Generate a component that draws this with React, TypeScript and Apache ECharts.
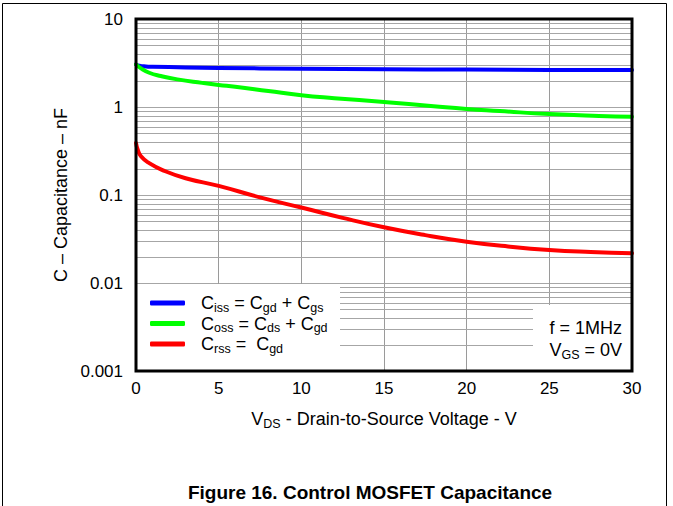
import React, { useEffect, useRef } from "react";
import * as echarts from "echarts";

// ---- data ----
const cissV = [0, 0.2, 0.6, 1, 3, 5, 10, 15, 20, 25, 30];
const cissC = [3.05, 2.95, 2.89, 2.87, 2.82, 2.78, 2.72, 2.69, 2.66, 2.64, 2.63];

const cossV = [0, 0.3, 0.8, 1.5, 2.5, 4, 5, 6, 8, 10, 12, 15, 18, 20, 22, 25, 28, 30];
const cossC = [3.05, 2.75, 2.45, 2.25, 2.06, 1.88, 1.78, 1.7, 1.52, 1.36, 1.26, 1.14, 1.02, 0.95, 0.9, 0.83, 0.79, 0.775];

const crssV = [0, 0.1, 0.3, 0.8, 1.6, 3, 5, 7.5, 10, 12.5, 15, 17.5, 20, 22.5, 25, 27.5, 30];
const crssC = [0.39, 0.33, 0.275, 0.23, 0.192, 0.155, 0.127, 0.094, 0.072, 0.055, 0.043, 0.035, 0.0295, 0.026, 0.0237, 0.0225, 0.0218];

const xTicks = [0, 5, 10, 15, 20, 25, 30];
const yTickValues = [0.001, 0.01, 0.1, 1, 10];
const yTickLabels = ["0.001", "0.01", "0.1", "1", "10"];
const minorGridValues = [
  0.002, 0.003, 0.004, 0.005, 0.006, 0.007, 0.008, 0.009,
  0.02, 0.03, 0.04, 0.05, 0.06, 0.07, 0.08, 0.09,
  0.2, 0.3, 0.4, 0.5, 0.6, 0.7, 0.8, 0.9,
  2, 3, 4, 5, 6, 7, 8, 9,
];
const seriesNames = ["Ciss", "Coss", "Crss"];
const legendLabels: Record<string, string> = {
  Ciss: "{m|C}{s|iss}{m| = C}{s|gd}{m| + C}{s|gs}",
  Coss: "{m|C}{s|oss}{m| = C}{s|ds}{m| + C}{s|gd}",
  Crss: "{m|C}{s|rss}{m| =  C}{s|gd}",
};

const FONT = "'Liberation Sans', Arial, Helvetica, sans-serif";
const GRID = { left: 136, top: 19, width: 496, height: 352 };

const subRich = (main: number, sub: number, lh: number) => ({
  m: { fontSize: main, fontFamily: FONT, color: "#000", lineHeight: lh, verticalAlign: "middle" },
  s: { fontSize: sub, fontFamily: FONT, color: "#000", verticalAlign: "bottom" },
});

export default function App() {
  const ref = useRef<HTMLDivElement>(null);

  useEffect(() => {
    document.body.style.margin = "0";
    if (!ref.current) return;
    const chart = echarts.init(ref.current, undefined, { renderer: "svg" });

    const pairs = (xs: number[], ys: number[]) => xs.map((x, i) => [x, ys[i]]);
    const lineSeries = (name: string, color: string, data: number[][]) => ({
      name,
      type: "line",
      data,
      showSymbol: false,
      smooth: 0.5,
      z: 2,
      lineStyle: { color, width: 4, cap: "round", join: "round" },
      itemStyle: { color },
      silent: true,
    });

    chart.setOption({
      animation: false,
      backgroundColor: "#fff",
      grid: { ...GRID, show: false },
      legend: {
        data: seriesNames,
        orient: "vertical",
        left: 150,
        top: 294,
        padding: 0,
        itemGap: 0.5,
        itemWidth: 35,
        itemHeight: 5,
        icon: "roundRect",
        selectedMode: false,
        formatter: (n: string) => legendLabels[n],
        textStyle: { padding: [0, 0, 0, 11], rich: subRich(18, 12.5, 22) },
      },
      xAxis: {
        type: "value",
        min: xTicks[0],
        max: xTicks[xTicks.length - 1],
        interval: 5,
        name: "{m|V}{s|DS}{m| - Drain-to-Source Voltage - V}",
        nameLocation: "middle",
        nameGap: 37,
        nameTextStyle: { rich: subRich(18, 12.5, 22) },
        axisLine: { show: false },
        axisTick: { show: false },
        axisLabel: { fontSize: 17, fontFamily: FONT, color: "#000", margin: 9 },
        splitLine: { show: true, lineStyle: { color: "#9a9a9a", width: 1 } },
      },
      yAxis: {
        type: "log",
        logBase: 10,
        min: yTickValues[0],
        max: yTickValues[yTickValues.length - 1],
        name: "C – Capacitance – nF",
        nameLocation: "middle",
        nameRotate: 90,
        nameGap: 62,
        nameTextStyle: { fontSize: 18, fontFamily: FONT, color: "#000" },
        axisLine: { show: false },
        axisTick: { show: false },
        axisLabel: {
          fontSize: 17,
          fontFamily: FONT,
          color: "#000",
          margin: 13,
          formatter: (v: number) => {
            const i = yTickValues.findIndex((t) => Math.abs(Math.log10(t) - Math.log10(v)) < 1e-6);
            return i >= 0 ? yTickLabels[i] : "";
          },
        },
        splitLine: { show: true, lineStyle: { color: "#a6a6a6", width: 1 } },
      },
      series: [
        {
          name: "grid",
          type: "custom",
          z: 1,
          silent: true,
          clip: false,
          data: minorGridValues.map((v) => [xTicks[0], v]),
          renderItem: (_p: any, api: any) => {
            const v = api.value(1);
            const a = api.coord([xTicks[0], v]);
            const b = api.coord([xTicks[xTicks.length - 1], v]);
            const y = Math.round(a[1]) + 0.5;
            return {
              type: "line",
              shape: { x1: a[0], y1: y, x2: b[0], y2: y },
              style: { stroke: "#a6a6a6", lineWidth: 1 },
            };
          },
        },
        lineSeries("Ciss", "#0000ff", pairs(cissV, cissC)),
        lineSeries("Coss", "#00ff00", pairs(cossV, cossC)),
        lineSeries("Crss", "#ff0000", pairs(crssV, crssC)),
      ],
      graphic: [
        {
          type: "rect",
          z: 1.5,
          silent: true,
          shape: { x: 137, y: 284, width: 203, height: 86 },
          style: { fill: "#fff" },
        },
        {
          type: "rect",
          z: 1.5,
          silent: true,
          shape: { x: 533, y: 305, width: 98, height: 65 },
          style: { fill: "#fff" },
        },
        {
          type: "rect",
          z: 5,
          silent: true,
          shape: { x: GRID.left, y: GRID.top, width: GRID.width, height: GRID.height },
          style: { fill: "none", stroke: "#000", lineWidth: 3 },
        },
        {
          type: "text",
          z: 6,
          x: 622,
          y: 328,
          style: { text: "f = 1MHz", fontSize: 18, fontFamily: FONT, fill: "#000", align: "right", verticalAlign: "middle" },
        },
        {
          type: "text",
          z: 6,
          x: 622,
          y: 350,
          style: {
            text: "{m|V}{s|GS}{m| = 0V}",
            align: "right",
            verticalAlign: "middle",
            rich: subRich(18, 12.5, 22),
          },
        },
        {
          type: "text",
          z: 6,
          x: 370,
          y: 492,
          style: {
            text: "Figure 16. Control MOSFET Capacitance",
            fontSize: 19,
            fontWeight: "bold",
            fontFamily: FONT,
            fill: "#000",
            align: "center",
            verticalAlign: "middle",
          },
        },
        {
          type: "polyline",
          z: 6,
          silent: true,
          shape: { points: [[2.5, 506], [2.5, 3.5], [666.5, 3.5], [666.5, 506]] },
          style: { fill: "none", stroke: "#000", lineWidth: 1 },
        },
      ],
    });

    return () => chart.dispose();
  }, []);

  return <div ref={ref} style={{ width: 673, height: 506 }} />;
}
